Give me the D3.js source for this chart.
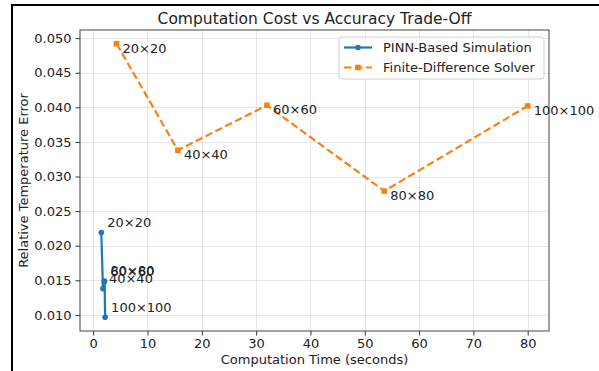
<!DOCTYPE html>
<html>
<head>
<meta charset="utf-8">
<script src="https://cdn.jsdelivr.net/npm/d3@7"></script>
<style>
  html, body { margin: 0; padding: 0; background: #fff; }
  svg { display: block; font-family: "DejaVu Sans", sans-serif; }
</style>
</head>
<body>
<svg id="chart" width="599" height="371"></svg>
<script>
// Grid resolutions used as point labels
const gridLabels = ["20\u00d720", "40\u00d740", "60\u00d760", "80\u00d780", "100\u00d7100"];

// PINN-based simulation: computation time (s) and relative temperature error
const pinnTime = [1.5, 1.8, 2.05, 2.1, 2.2];
const pinnError = [0.0219, 0.0138, 0.0148, 0.0149, 0.00965];

// Finite-difference solver: computation time (s) and relative temperature error
const fdTime = [4.3, 15.6, 32.0, 53.6, 80.0];
const fdError = [0.0492, 0.0338, 0.0403, 0.0279, 0.0402];

const xTicks = [0, 10, 20, 30, 40, 50, 60, 70, 80];
const yTicks = [0.010, 0.015, 0.020, 0.025, 0.030, 0.035, 0.040, 0.045, 0.050];

const seriesNames = ["PINN-Based Simulation", "Finite-Difference Solver"];
const colors = ["#1f77b4", "#ff7f0e"];

const svg = d3.select("#chart");
const W = 599, H = 371;
const plot = { left: 80, right: 549, top: 30, bottom: 331 };

// outer frame (left and top edges)
svg.append("path")
  .attr("d", `M12,${H} L12,5 L${W},5`)
  .attr("fill", "none").attr("stroke", "#000").attr("stroke-width", 2);

// domains padded by 5% on each side
function padded(vals) {
  const [lo, hi] = d3.extent(vals);
  const m = (hi - lo) * 0.05;
  return [lo - m, hi + m];
}
const x = d3.scaleLinear().domain(padded(pinnTime.concat(fdTime))).range([plot.left, plot.right]);
const y = d3.scaleLinear().domain(padded(pinnError.concat(fdError))).range([plot.bottom, plot.top]);

// grid
const grid = svg.append("g").attr("stroke", "#b0b0b0").attr("stroke-opacity", 0.3).attr("stroke-width", 1);
xTicks.forEach(t => grid.append("line")
  .attr("x1", Math.round(x(t)) + 0.5).attr("x2", Math.round(x(t)) + 0.5)
  .attr("y1", plot.top).attr("y2", plot.bottom));
yTicks.forEach(t => grid.append("line")
  .attr("y1", Math.round(y(t)) + 0.5).attr("y2", Math.round(y(t)) + 0.5)
  .attr("x1", plot.left).attr("x2", plot.right));

// axes
const fmt = d3.format(".3f");
const xAxis = svg.append("g").attr("transform", `translate(0,${plot.bottom})`)
  .call(d3.axisBottom(x).tickValues(xTicks).tickFormat(d3.format("d")).tickSize(4.5).tickPadding(3));
const yAxis = svg.append("g").attr("transform", `translate(${plot.left},0)`)
  .call(d3.axisLeft(y).tickValues(yTicks).tickFormat(fmt).tickSize(4.5).tickPadding(4));
[xAxis, yAxis].forEach(a => {
  a.select(".domain").remove();
  a.selectAll("line").attr("stroke", "#333");
  a.selectAll("text").attr("fill", "#222").style("font-size", "13px").style("font-family", "DejaVu Sans, sans-serif");
});

// plot frame
svg.append("rect")
  .attr("x", plot.left).attr("y", plot.top)
  .attr("width", plot.right - plot.left).attr("height", plot.bottom - plot.top)
  .attr("fill", "none").attr("stroke", "#444").attr("stroke-width", 1);

// title and axis labels
const cx = (plot.left + plot.right) / 2, cy = (plot.top + plot.bottom) / 2;
svg.append("text").attr("x", cx).attr("y", 24).attr("text-anchor", "middle")
  .style("font-size", "15.5px").attr("fill", "#222").text("Computation Cost vs Accuracy Trade-Off");
svg.append("text").attr("x", cx).attr("y", 363.5).attr("text-anchor", "middle")
  .style("font-size", "13px").attr("fill", "#222").text("Computation Time (seconds)");
svg.append("text").attr("transform", `translate(28,${cy}) rotate(-90)`).attr("text-anchor", "middle")
  .style("font-size", "13px").attr("fill", "#222").text("Relative Temperature Error");

const line = d3.line().x(d => x(d[0])).y(d => y(d[1]));
const pinn = pinnTime.map((t, i) => [t, pinnError[i]]);
const fd = fdTime.map((t, i) => [t, fdError[i]]);

// finite-difference series: dashed line with square markers
svg.append("path").datum(fd).attr("d", line)
  .attr("fill", "none").attr("stroke", colors[1]).attr("stroke-width", 2.2)
  .attr("stroke-dasharray", "7.5,3.5");
svg.selectAll(".fdpt").data(fd).enter().append("rect")
  .attr("x", d => x(d[0]) - 2.8).attr("y", d => y(d[1]) - 2.8)
  .attr("width", 5.6).attr("height", 5.6).attr("fill", colors[1]);

// PINN series: solid line with circle markers
svg.append("path").datum(pinn).attr("d", line)
  .attr("fill", "none").attr("stroke", colors[0]).attr("stroke-width", 2.2);
svg.selectAll(".pinnpt").data(pinn).enter().append("circle")
  .attr("cx", d => x(d[0])).attr("cy", d => y(d[1])).attr("r", 2.8).attr("fill", colors[0]);

// point labels
const labelStyle = sel => sel.style("font-size", "13px").attr("fill", "#222");
svg.selectAll(".pinnlbl").data(pinn).enter().append("text")
  .attr("x", d => x(d[0]) + 6).attr("y", d => y(d[1]) - 5.5)
  .text((d, i) => gridLabels[i]).call(labelStyle);
svg.selectAll(".fdlbl").data(fd).enter().append("text")
  .attr("x", d => x(d[0]) + 6).attr("y", d => y(d[1]) + 9)
  .text((d, i) => gridLabels[i]).call(labelStyle);

// legend
const lg = svg.append("g").attr("transform", "translate(339,37)");
lg.append("rect").attr("width", 205).attr("height", 42).attr("rx", 3)
  .attr("fill", "#fff").attr("fill-opacity", 0.8).attr("stroke", "#d0d0d0");
seriesNames.forEach((name, i) => {
  const ly = 10.5 + i * 20;
  lg.append("line").attr("x1", 5).attr("x2", 33).attr("y1", ly).attr("y2", ly)
    .attr("stroke", colors[i]).attr("stroke-width", 2.2)
    .attr("stroke-dasharray", i === 1 ? "7.5,3.5" : null);
  if (i === 0) {
    lg.append("circle").attr("cx", 19).attr("cy", ly).attr("r", 2.8).attr("fill", colors[i]);
  } else {
    lg.append("rect").attr("x", 16.2).attr("y", ly - 2.8).attr("width", 5.6).attr("height", 5.6).attr("fill", colors[i]);
  }
  lg.append("text").attr("x", 44).attr("y", ly + 4.5).text(name)
    .style("font-size", "13px").attr("fill", "#222");
});
</script>
</body>
</html>
